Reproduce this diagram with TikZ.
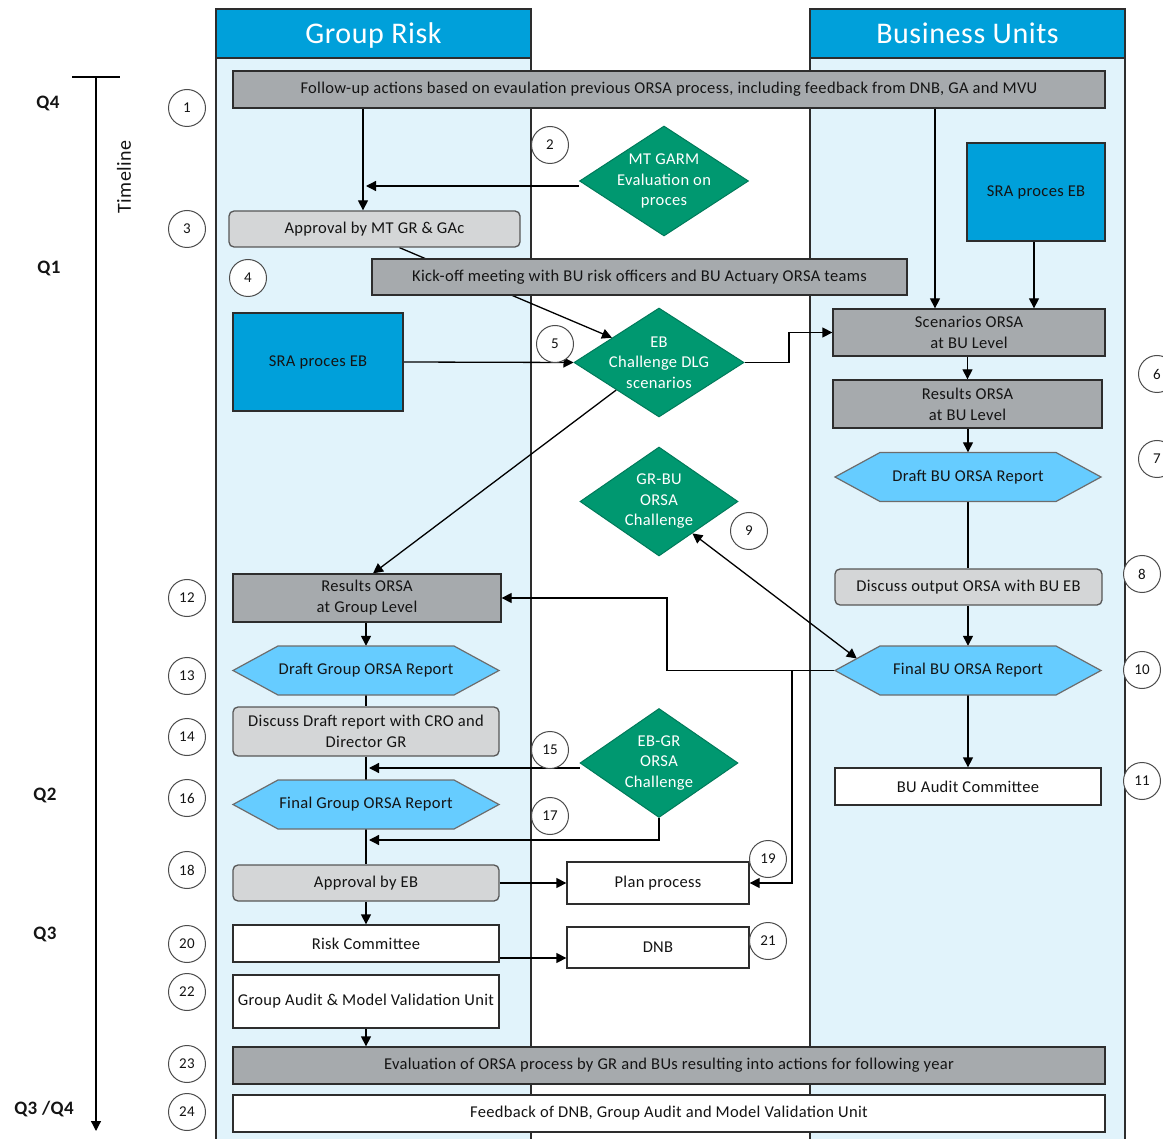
\documentclass[tikz,border=0pt]{standalone}
\usepackage{fontspec}
\setmainfont[LetterSpace=2]{Carlito}
\usetikzlibrary{shapes.geometric,arrows.meta,calc}

\definecolor{hdrblue}{RGB}{0,160,218}
\definecolor{lanebg}{RGB}{225,243,251}
\definecolor{boxgray}{RGB}{166,170,173}
\definecolor{softgray}{RGB}{212,214,215}
\definecolor{riskgreen}{RGB}{0,152,112}
\definecolor{hexblue}{RGB}{102,204,255}
\definecolor{edgeline}{RGB}{45,45,45}
\definecolor{inktext}{RGB}{20,20,20}

\pgfdeclarelayer{lanes}
\pgfdeclarelayer{wires}
\pgfsetlayers{lanes,wires,main}

% hexagonal report shape: name, centre x, centre y, text
\newcommand\orsahex[4]{%
  \fill[hexblue,draw=edgeline!70,line width=1.2pt]
    (#2-133,#3) -- (#2-88,#3-24.5) -- (#2+88,#3-24.5) -- (#2+133,#3)
    -- (#2+88,#3+24.5) -- (#2-88,#3+24.5) -- cycle;
  \node[boxtext,minimum width=266,minimum height=49] (#1) at (#2,#3) {#4};
}

\begin{document}
\begin{tikzpicture}[x=1pt,y=-1pt,
  boxtext/.style={font=\fontsize{16.5}{21}\selectfont,text=inktext,align=center,inner sep=0pt},
  wh/.style 2 args={minimum width=#1,minimum height=#2},
  graybox/.style={boxtext,rectangle,fill=boxgray,draw=edgeline,line width=1.3pt},
  softbox/.style={boxtext,rectangle,rounded corners=5pt,fill=softgray,draw=edgeline!80,line width=1.3pt},
  whitebox/.style={boxtext,rectangle,fill=white,draw=edgeline,line width=1.3pt},
  srabox/.style={boxtext,rectangle,fill=hdrblue,draw=edgeline,line width=1.3pt},
  gdiamond/.style={diamond,fill=riskgreen,draw=riskgreen!80!black,line width=1pt,inner sep=0pt},
  gtext/.style={font=\fontsize{16.5}{20.5}\selectfont,text=white,align=center,inner sep=0pt},
  lanehead/.style={rectangle,fill=hdrblue,draw=edgeline,line width=1.3pt,text=white,
    font=\fontsize{30}{32}\selectfont,minimum width=315,minimum height=49,inner sep=0pt,
    text height=22pt,text depth=2pt},
  num/.style={circle,draw=edgeline!85,line width=1pt,fill=white,minimum size=37,inner sep=0pt,
    font=\fontsize{15}{15}\selectfont,text=inktext},
  qlabel/.style={font=\fontsize{19}{19}\selectfont\bfseries,text=inktext,inner sep=0pt},
  wire/.style={line width=1.3pt,draw=black},
  arr/.style={wire,-{Triangle[length=10pt,width=10pt]}},
  arrs/.style={wire,{Triangle[length=10pt,width=10pt]}-{Triangle[length=10pt,width=10pt]}},
]
\useasboundingbox (0,0) rectangle (1163,1139);

% swim lanes
\begin{pgfonlayer}{lanes}
  \fill[lanebg] (216,58) rectangle (531,1139);
  \fill[lanebg] (810,58) rectangle (1125,1139);
  \draw[line width=1.3pt,edgeline] (216,58) -- (216,1139) (531,58) -- (531,1139)
    (810,58) -- (810,1139) (1125,58) -- (1125,1139);
\end{pgfonlayer}
\node[lanehead] (hgr) at (373.5,33.5) {Group Risk};
\node[lanehead] (hbu) at (967.5,33.5) {Business Units};

% timeline
\coordinate (ttop) at (96,77);
\coordinate (tbot) at (96,1131);
\coordinate (tl) at (72,77);
\coordinate (tr) at (120,77);
\draw[wire] (tl) -- (tr);
\draw[arr] (ttop) -- (tbot);
\node[font=\fontsize{20}{20}\selectfont,text=inktext,rotate=90] (tline) at (124,177) {Timeline};
\node[qlabel] (q4) at (48,103) {Q4};
\node[qlabel] (q1) at (49,268) {Q1};
\node[qlabel] (q2) at (45,795) {Q2};
\node[qlabel] (q3) at (45,934) {Q3};
\node[qlabel] (q34) at (44,1109) {Q3 /Q4};

% process steps
\node[graybox,wh={872}{37}] (followup) at (669,89.5)
  {Follow-up actions based on evaulation previous ORSA process, including feedback from DNB, GA and MVU};
\node[gdiamond,wh={169}{110},label={[gtext]center:MT GARM\\Evaluation on\\proces}] (mtgarm) at (664,181) {};
\node[softbox,wh={291}{36}] (apprmt) at (374.5,229) {Approval by MT GR \& GAc};
\node[graybox,wh={535}{36}] (kickoff) at (639.5,277)
  {Kick-off meeting with BU risk officers and BU Actuary ORSA teams};
\node[srabox,wh={170}{98}] (sral) at (318,362) {SRA proces EB};
\node[srabox,wh={138}{98}] (srar) at (1036,192) {SRA proces EB};
\node[gdiamond,wh={170}{109},label={[gtext]center:EB\\Challenge DLG\\scenarios}] (ebdlg) at (659,362.5) {};
\node[graybox,wh={272}{47}] (scenbu) at (969,332.5) {Scenarios ORSA\\at BU Level};
\node[graybox,wh={269}{48}] (resbu) at (967.5,404) {Results ORSA\\at BU Level};
\orsahex{draftbu}{968}{477}{Draft BU ORSA Report}
\node[gdiamond,wh={158}{109},label={[gtext]center:GR-BU\\ORSA\\Challenge}] (grbu) at (659,501.5) {};
\node[softbox,wh={267}{36}] (discbu) at (968.5,587) {Discuss output ORSA with BU EB};
\node[graybox,wh={268}{48}] (resgr) at (367,598) {Results ORSA\\at Group Level};
\orsahex{finalbu}{968}{670.5}{Final BU ORSA Report}
\orsahex{draftgr}{366}{670.5}{Draft Group ORSA Report}
\node[softbox,wh={266}{49}] (discgr) at (366,731.5) {Discuss Draft report with CRO and\\Director GR};
\node[gdiamond,wh={158}{109},label={[gtext]center:EB-GR\\ORSA\\Challenge}] (ebgr) at (659,763) {};
\orsahex{finalgr}{366}{804.5}{Final Group ORSA Report}
\node[whitebox,wh={266}{37}] (buaudit) at (968,786.5) {BU Audit Committee};
\node[softbox,wh={266}{36}] (appreb) at (366,883) {Approval by EB};
\node[whitebox,wh={182}{42}] (plan) at (658,883) {Plan process};
\node[whitebox,wh={266}{37}] (riskc) at (366,943.5) {Risk Committee};
\node[whitebox,wh={182}{41}] (dnb) at (658,947.5) {DNB};
\node[whitebox,wh={266}{53}] (gaudit) at (366,1001.5) {Group Audit \& Model Validation Unit};
\node[graybox,wh={872}{37}] (evalb) at (669,1065.5)
  {Evaluation of ORSA process by GR and BUs resulting into actions for following year};
\node[whitebox,wh={872}{37}] (feedback) at (669,1113.5)
  {Feedback of DNB, Group Audit and Model Validation Unit};

% step numbers
\node[num] (n1) at (187,108) {1};
\node[num] (n2) at (550,145) {2};
\node[num] (n3) at (187,229) {3};
\node[num] (n4) at (248,278) {4};
\node[num] (n5) at (555,344) {5};
\node[num] (n6) at (1157,374) {6};
\node[num] (n7) at (1157,459) {7};
\node[num] (n8) at (1142,574) {8};
\node[num] (n9) at (749,531) {9};
\node[num] (n10) at (1142,670) {10};
\node[num] (n11) at (1142,781) {11};
\node[num] (n12) at (187,598) {12};
\node[num] (n13) at (187,676) {13};
\node[num] (n14) at (187,737) {14};
\node[num] (n15) at (550,750) {15};
\node[num] (n16) at (187,798) {16};
\node[num] (n17) at (550,816) {17};
\node[num] (n18) at (187,870) {18};
\node[num] (n19) at (768,859) {19};
\node[num] (n20) at (187,944) {20};
\node[num] (n21) at (768,941) {21};
\node[num] (n22) at (187,992) {22};
\node[num] (n23) at (187,1064) {23};
\node[num] (n24) at (187,1112) {24};

% routing points
\coordinate (j1) at (363,186);
\coordinate (xscen) at (935,0);
\coordinate (x789) at (789,0);
\coordinate (x667) at (667,0);
\coordinate (x792) at (792,0);
\coordinate (j15) at (369,768);
\coordinate (j17) at (369,840);
\coordinate (y958) at (0,958);

% connectors
\begin{pgfonlayer}{wires}
  \draw[arr] (followup.south -| j1) -- (j1 |- apprmt.north);
  \draw[arr] (mtgarm.west |- j1) -- ($(j1)+(3,0)$);
  \draw[arr] (followup.south -| xscen) -- (xscen |- scenbu.north);
  \draw[arr] (srar.south -| 1034,0) -- (scenbu.north -| 1034,0);
  \draw[arr] ($(apprmt.south)+(25,0)$) -- ($(ebdlg.west)!0.45!(ebdlg.north)$);
  \draw[arr] (sral.east) -- (ebdlg.west);
  \draw[arr] (ebdlg.east) -- (ebdlg.east -| x789) -- (x789 |- scenbu.west) -- (scenbu.west);
  \draw[arr] ($(ebdlg.west)!0.5!(ebdlg.south)$) -- ($(resgr.north)+(6,0)$);
  \draw[arr] (resbu.north |- scenbu.south) -- (resbu.north);
  \draw[arr] (draftbu.north |- resbu.south) -- (draftbu.north);
  \draw[wire] (draftbu.south) -- (draftbu.south |- discbu.north);
  \draw[arr] (finalbu.north |- discbu.south) -- (finalbu.north);
  \draw[arrs] ($(finalbu.west)+(22,-12)$) -- ($(grbu.south)!0.42!(grbu.east)$);
  \draw[arr] (finalbu.west) -- (finalbu.west -| x667) -- (x667 |- resgr.east) -- (resgr.east);
  \draw[arr] (finalbu.west -| x792) -- (x792 |- plan.east) -- (plan.east);
  \draw[arr] (finalbu.south) -- (buaudit.north);
  \draw[arr] (draftgr.north |- resgr.south) -- (draftgr.north);
  \draw[wire] (draftgr.south) -- (discgr.north);
  \draw[wire] (discgr.south) -- (finalgr.north);
  \draw[arr] (ebgr.west |- j15) -- (j15);
  \draw[wire] (finalgr.south) -- (appreb.north);
  \draw[arr] (ebgr.south) -- (ebgr.south |- j17) -- (j17);
  \draw[arr] (appreb.south) -- (riskc.north);
  \draw[arr] (appreb.east) -- (plan.west);
  \draw[arr] (riskc.east |- y958) -- (dnb.west |- y958);
  \draw[arr] (gaudit.south) -- (gaudit.south |- evalb.north);
\end{pgfonlayer}
\end{tikzpicture}
\end{document}
